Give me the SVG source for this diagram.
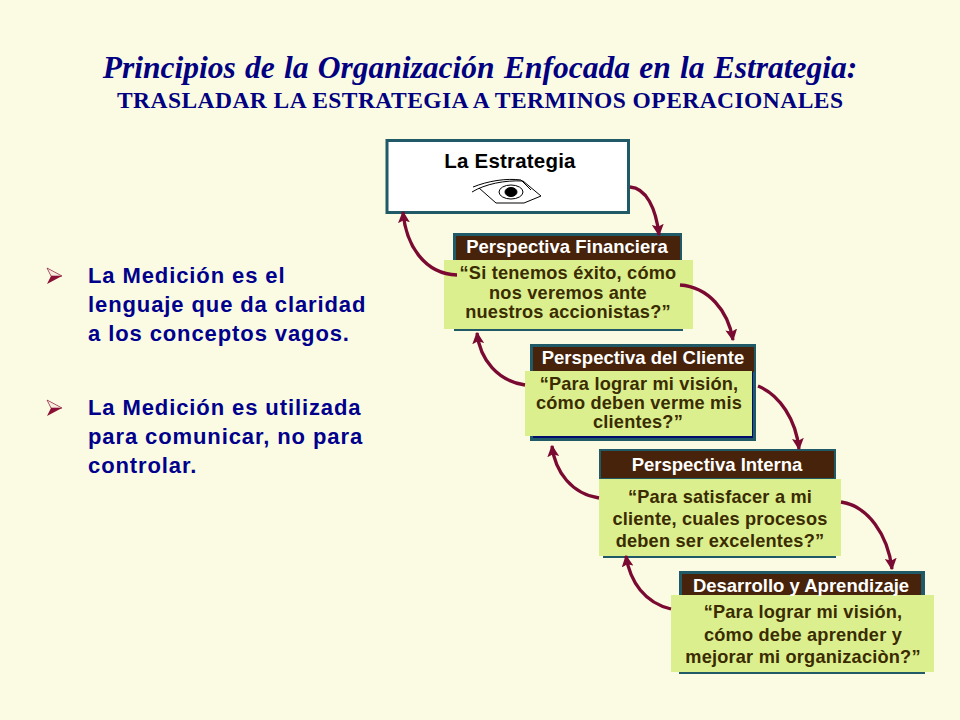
<svg xmlns="http://www.w3.org/2000/svg" width="960" height="720" viewBox="0 0 960 720">
<style>
.t1{font:italic bold 31.500px "Liberation Serif",serif;fill:#000080;word-spacing:1.400px}
.t2{font:bold 23.500px "Liberation Serif",serif;fill:#000080}
.b{font:bold 22px "Liberation Sans",Arial,sans-serif;fill:#00008c;letter-spacing:.9px}
.h{font:bold 18.500px "Liberation Sans",Arial,sans-serif;fill:#fff;text-anchor:middle}
.q{font:bold 18.200px "Liberation Sans",Arial,sans-serif;fill:#3a2c00;text-anchor:middle;letter-spacing:.2px}
.frame{fill:#1f5a66}
.brown{fill:#46230a}
.note{fill:#dcef8f}
.c{fill:none;stroke:#7a0a32;stroke-width:3.300;marker-end:url(#a)}
.eye{fill:none;stroke:#000;stroke-width:1}
</style>
<defs>
<marker id="a" viewBox="0 0 10 10" refX="9" refY="5" markerWidth="3.600" markerHeight="3.600" orient="auto"><path d="M0 0L10 5L0 10L2 5Z" fill="#7a0a32"/></marker>
<g id="bullet"><path d="M0 0L15 8L0 16L4 8Z" fill="#8a0f35"/><path d="M0 0L15 8L4 8Z" fill="#f6eedc" stroke="#8a0f35" stroke-width=".6"/></g>
</defs>
<rect width="960" height="720" fill="#fbfbe3"/>
<g id="title">
<text class="t1" x="480" y="78" text-anchor="middle">Principios de la Organización Enfocada en la Estrategia:</text>
<text class="t2" x="480" y="108" text-anchor="middle" textLength="726" lengthAdjust="spacing">TRASLADAR LA ESTRATEGIA A TERMINOS OPERACIONALES</text>
</g>
<g id="bullets">
<use href="#bullet" x="47" y="268"/>
<text class="b" x="88" y="283">La Medición es el</text>
<text class="b" x="88" y="312">lenguaje que da claridad</text>
<text class="b" x="88" y="341">a los conceptos vagos.</text>
<use href="#bullet" x="47" y="400"/>
<text class="b" x="88" y="415">La Medición es utilizada</text>
<text class="b" x="88" y="444">para comunicar, no para</text>
<text class="b" x="88" y="473">controlar.</text>
</g>
<g id="estrategia">
<rect x="387" y="140.500" width="241.500" height="72" fill="#fff" stroke="#1f5a66" stroke-width="3"/>
<text x="510" y="168" font-family="Liberation Sans, Arial, sans-serif" font-weight="bold" font-size="20.500" text-anchor="middle" fill="#000" letter-spacing=".2">La Estrategia</text>
<g class="eye">
<path d="M472 192C485 184 505 180 523 181L541 196L524 203H496L479 188"/>
<path d="M473 187C488 181 506 178 521 180L531 190"/>
<ellipse cx="511" cy="192" rx="12" ry="7"/>
<ellipse cx="511" cy="192" rx="6" ry="4.500" fill="#000"/>
</g>
</g>
<g id="financiera">
<rect class="frame" x="453" y="233" width="229" height="29"/>
<rect class="brown" x="456" y="236" width="224" height="24"/>
<rect class="frame" x="454" y="328" width="229" height="3"/>
<rect class="note" x="444" y="260" width="249" height="69"/>
<text class="h" x="567" y="253">Perspectiva Financiera</text>
<text class="q" x="568" y="279">“Si tenemos éxito, cómo</text>
<text class="q" x="568" y="298.500">nos veremos ante</text>
<text class="q" x="568" y="318">nuestros accionistas?”</text>
</g>
<g id="cliente">
<rect class="frame" x="530" y="344" width="226" height="97"/>
<rect class="brown" x="533" y="347" width="221" height="25"/>
<rect x="533" y="372" width="220" height="66" fill="#000d6e"/>
<rect class="note" x="525" y="371" width="227" height="65"/>
<text class="h" x="643" y="364">Perspectiva del Cliente</text>
<text class="q" x="639" y="390">“Para lograr mi visión,</text>
<text class="q" x="639" y="409">cómo deben verme mis</text>
<text class="q" x="638" y="428">clientes?”</text>
</g>
<g id="interna">
<rect class="frame" x="599" y="449" width="237" height="31"/>
<rect class="brown" x="601" y="451" width="233" height="27"/>
<rect class="frame" x="603" y="555" width="233" height="3"/>
<rect class="note" x="599" y="479" width="242" height="77"/>
<text class="h" x="717" y="471">Perspectiva Interna</text>
<text class="q" x="720" y="503">“Para satisfacer a mi</text>
<text class="q" x="720" y="525">cliente, cuales procesos</text>
<text class="q" x="720" y="547">deben ser excelentes?”</text>
</g>
<g id="desarrollo">
<rect class="frame" x="679" y="571" width="246" height="28"/>
<rect class="brown" x="682" y="574" width="239" height="24"/>
<rect class="frame" x="679" y="671" width="246" height="3"/>
<rect class="note" x="671" y="595" width="263" height="77"/>
<text class="h" x="801" y="592">Desarrollo y Aprendizaje</text>
<text class="q" x="803" y="618">“Para lograr mi visión,</text>
<text class="q" x="803" y="641">cómo debe aprender y</text>
<text class="q" x="803" y="663">mejorar mi organizaciòn?”</text>
</g>
<g id="connectors">
<path class="c" d="M630 187C646 188 656 208 659 235"/>
<path class="c" d="M457 275C425 274 406 246 403 212"/>
<path class="c" d="M680 285C708 287 728 310 733 340"/>
<path class="c" d="M525 385C498 381 480 360 477 333"/>
<path class="c" d="M758 386C780 395 796 420 799 449"/>
<path class="c" d="M599 498C572 494 555 472 552 446"/>
<path class="c" d="M841 502C868 506 888 535 892 569"/>
<path class="c" d="M671 609C645 603 630 582 626 556"/>
</g>
</svg>
